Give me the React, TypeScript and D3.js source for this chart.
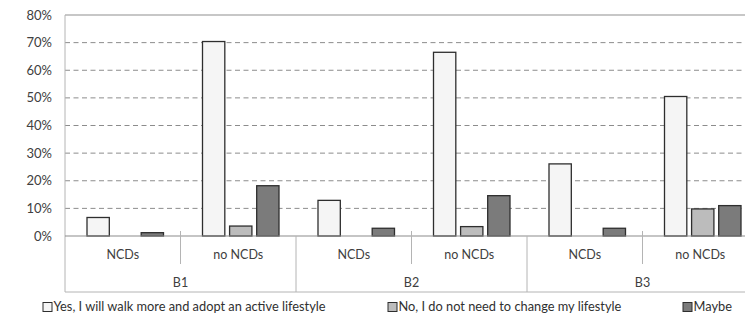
import React from "react";
import * as d3 from "d3";

const groups = ["B1", "B2", "B3"];
const subcats = ["NCDs", "no NCDs"];
const series = [
  "Yes, I will walk more and adopt an active lifestyle",
  "No, I do not need to change my lifestyle",
  "Maybe",
];
// values per [group][subcat] in % for yes / no / maybe
const yesValues = [6.7, 70.4, 12.9, 66.5, 26.1, 50.5];
const noValues = [0, 3.6, 0, 3.4, 0, 9.8];
const maybeValues = [1.2, 18.2, 2.8, 14.6, 2.8, 11.0];
const yTicks = [0, 10, 20, 30, 40, 50, 60, 70, 80];

const fills = ["#f5f5f5", "#bcbcbc", "#7b7b7b"];
const font = "Lato, 'Open Sans', sans-serif";

export default function App() {
  const W = 745, H = 320;
  const left = 65, top = 15, plotBottom = 236, right = 758;
  const y = d3.scaleLinear().domain([0, 80]).range([plotBottom, top]);
  const cells = groups.flatMap((g) => subcats.map((s) => `${g}|${s}`));
  const x0 = d3.scaleBand().domain(cells).range([left, right]).paddingInner(0).paddingOuter(0);
  const x1 = d3.scaleBand().domain(["0", "1", "2"]).range([22, 22 + 72 + 4.5]).paddingInner(4.5 / 25.5).paddingOuter(0);
  const gx = d3.scaleBand().domain(groups).range([left, right]);
  const data = [yesValues, noValues, maybeValues];
  const axisCol = "#b4b4b4";
  const bottomLine = 292;

  return (
    <svg width={W} height={H} style={{ display: "block", position: "absolute", left: 0, top: 0, background: "#fff" }}>
      <rect x={0} y={0} width={W} height={H} fill="#fff" />
      {yTicks.map((t) => (
        <g key={t}>
          {t > 0 && t < 80 && (
            <line x1={left} x2={right} y1={y(t)} y2={y(t)} stroke="#8c8c8c" strokeDasharray="5,3.5" strokeWidth={1} />
          )}
          <text x={52} y={y(t)} dy="0.35em" textAnchor="end" fontFamily={font} fontSize={13} fill="#404040">
            {t}%
          </text>
        </g>
      ))}
      {/* plot border */}
      <line x1={left} x2={right} y1={top} y2={top} stroke={axisCol} strokeWidth={1.5} />
      <line x1={left} x2={left} y1={top} y2={bottomLine} stroke={axisCol} strokeWidth={1} />
      {/* bars */}
      {cells.map((c, i) => (
        <g key={c} transform={`translate(${x0(c)},0)`}>
          {data.map((arr, si) => {
            const v = arr[i];
            if (v <= 0) return null;
            return (
              <rect
                key={si}
                x={x1(String(si))}
                y={y(v)}
                width={x1.bandwidth()}
                height={plotBottom - y(v)}
                fill={fills[si]}
                stroke="#2e2e2e"
                strokeWidth={1.3}
              />
            );
          })}
        </g>
      ))}
      {/* category axis */}
      <line x1={left} x2={right} y1={plotBottom} y2={plotBottom} stroke="#8c8c8c" strokeWidth={1.2} />
      <line x1={left} x2={right} y1={bottomLine} y2={bottomLine} stroke={axisCol} strokeWidth={1} />
      {cells.map((c, i) =>
        i % 2 === 1 ? (
          <line key={"d" + c} x1={x0(c)} x2={x0(c)} y1={231} y2={264} stroke={axisCol} strokeWidth={1} />
        ) : null
      )}
      {groups.map((g, i) =>
        i > 0 ? <line key={"g" + g} x1={gx(g)} x2={gx(g)} y1={plotBottom} y2={bottomLine} stroke={axisCol} strokeWidth={1} /> : null
      )}
      {cells.map((c) => (
        <text key={"t" + c} x={(x0(c) as number) + x0.bandwidth() / 2} y={255} dy="0.35em" textAnchor="middle" fontFamily={font} fontSize={12.5} fill="#404040">
          {c.split("|")[1]}
        </text>
      ))}
      {groups.map((g) => (
        <text key={"gl" + g} x={(gx(g) as number) + gx.bandwidth() / 2} y={283} dy="0.35em" textAnchor="middle" fontFamily={font} fontSize={12.5} fill="#404040">
          {g}
        </text>
      ))}
      {/* legend */}
      {series.map((s, i) => {
        const lx = [43, 388, 683][i];
        return (
          <g key={s} transform={`translate(${lx},307)`}>
            <rect x={0} y={-4.5} width={9} height={9} fill={fills[i]} stroke="#2e2e2e" strokeWidth={1} />
            <text x={10.5} y={0} dy="0.35em" fontFamily={font} fontSize={12.8} fill="#303030">
              {s}
            </text>
          </g>
        );
      })}
    </svg>
  );
}
